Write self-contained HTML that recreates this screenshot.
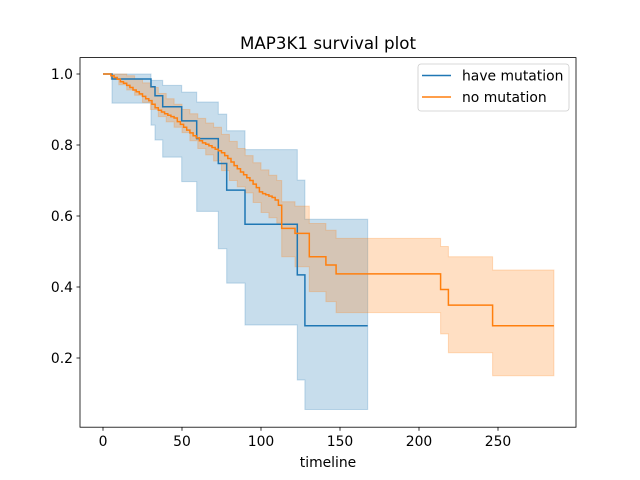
<!DOCTYPE html>
<html><head><meta charset="utf-8"><style>
html,body{margin:0;padding:0;background:#fff;}
svg{display:block;font-family:"DejaVu Sans","Liberation Sans",sans-serif;}
</style></head><body>
<svg id="chart" width="640" height="480" viewBox="0 0 640 480" xmlns="http://www.w3.org/2000/svg">
<rect width="640" height="480" fill="#fff"/>
<text x="328" y="49" font-size="16.7" text-anchor="middle">MAP3K1 survival plot</text>
<g id="bands"></g>
<g id="lines"></g>
<rect x="80" y="57.6" width="496" height="369.6" fill="none" stroke="#000" stroke-width="0.8"/>
<g id="xticks"></g>
<g id="yticks"></g>
<text x="328" y="467" font-size="13.9" text-anchor="middle">timeline</text>
<g>
<rect x="418" y="64" width="151" height="47" rx="3" fill="#fff" fill-opacity="0.8" stroke="#ccc" stroke-width="0.8"/>
<g>
<line x1="422" y1="75.5" x2="451" y2="75.5" stroke="#1f77b4" stroke-width="1.5"/>
<text x="462" y="80.5" font-size="13.9">have mutation</text></g>
<g>
<line x1="422" y1="97" x2="451" y2="97" stroke="#ff7f0e" stroke-width="1.5"/>
<text x="462" y="102" font-size="13.9">no mutation</text></g>
</g>
</svg>
<script>
const xTicks=[0,50,100,150,200,250];
const yTicks=[0.2,0.4,0.6,0.8,1.0];
const yTickLabels=["0.2","0.4","0.6","0.8","1.0"];
const blueTimes=[0,5.7,30.4,32.9,37.8,49.8,59.3,73,78.3,89.9,123,127.8];
const blueSurv=[1,0.986,0.964,0.939,0.908,0.868,0.818,0.748,0.673,0.577,0.434,0.291];
const blueUpper=[1,1,0.982,0.982,0.968,0.949,0.921,0.887,0.840,0.787,0.701,0.591];
const blueLower=[1,0.918,0.856,0.814,0.766,0.697,0.613,0.508,0.411,0.293,0.138,0.055];
const blueEnd=167.5;
const orangeTimes=[0,5,7,9,11,13,15,17,19,21,23,25,27,29,31,33,35,37,39,41,43,45,47,49,51,53,55,57,59,61,63,65,67,69,71,73,75,77,79,81,83,85,87,89,91,93,95,97,99,101,103,105,107,109,111,113.1,121.5,130.6,141.1,147.5,213.7,218.6,246.6];
const orangeSurv=[1,0.995,0.99,0.985,0.978,0.974,0.968,0.962,0.955,0.950,0.944,0.937,0.930,0.925,0.915,0.905,0.898,0.893,0.888,0.884,0.880,0.876,0.866,0.858,0.850,0.842,0.834,0.826,0.820,0.812,0.806,0.802,0.798,0.793,0.788,0.784,0.778,0.770,0.762,0.752,0.742,0.733,0.724,0.716,0.708,0.700,0.690,0.680,0.668,0.663,0.660,0.656,0.652,0.645,0.630,0.565,0.551,0.485,0.462,0.437,0.393,0.349,0.291];
const orangeCITimes=[0,5,10,15,20,25,30,35,40,45,50,55,60,65,70,75,80,85,90,95,100,105,110,113.1,121.5,130.6,141.1,147.5,213.7,218.6,246.6];
const orangeUpper=[1,1,1,0.995,0.985,0.975,0.962,0.945,0.93,0.915,0.90,0.888,0.875,0.862,0.85,0.83,0.81,0.79,0.77,0.75,0.73,0.715,0.70,0.64,0.628,0.579,0.56,0.537,0.514,0.485,0.448];
const orangeLower=[1,0.985,0.97,0.955,0.94,0.92,0.90,0.88,0.865,0.85,0.835,0.812,0.79,0.772,0.755,0.728,0.70,0.682,0.665,0.638,0.61,0.595,0.58,0.485,0.457,0.387,0.359,0.328,0.268,0.215,0.150];
const orangeEnd=285.4;

const NS="http://www.w3.org/2000/svg";
const X=t=>103+t*1.58;
const Y=v=>74+(1-v)*355;
function stepPts(times,vals,end){let p=[];for(let i=0;i<times.length;i++){const x=X(times[i]),y=Y(vals[i]);if(i>0)p.push([x,Y(vals[i-1])]);p.push([x,y]);}p.push([X(end),Y(vals[vals.length-1])]);return p;}
function mk(tag,attrs,parent){const e=document.createElementNS(NS,tag);for(const k in attrs)e.setAttribute(k,attrs[k]);parent.appendChild(e);return e;}
const bands=document.getElementById('bands'),lines=document.getElementById('lines');
function band(times,up,lo,end,color,name){const u=stepPts(times,up,end),l=stepPts(times,lo,end).reverse();const d='M'+u.concat(l).map(p=>p[0].toFixed(1)+','+p[1].toFixed(1)).join('L')+'Z';const e=mk('path',{d:d,fill:color,'fill-opacity':0.25,stroke:color,'stroke-opacity':0.25},bands);

}
function line(times,vals,end,color,name){const d='M'+stepPts(times,vals,end).map(p=>p[0].toFixed(1)+','+p[1].toFixed(1)).join('L');const e=mk('path',{d:d,fill:'none',stroke:color,'stroke-width':1.5},lines);

}
band(blueTimes,blueUpper,blueLower,blueEnd,'#1f77b4','have-mutation-ci');
band(orangeCITimes,orangeUpper,orangeLower,orangeEnd,'#ff7f0e','no-mutation-ci');
line(blueTimes,blueSurv,blueEnd,'#1f77b4','have-mutation-line');
line(orangeTimes,orangeSurv,orangeEnd,'#ff7f0e','no-mutation-line');
const xg=document.getElementById('xticks'),yg=document.getElementById('yticks');
xTicks.forEach(t=>{const x=X(t);mk('line',{x1:x,y1:427.2,x2:x,y2:430.7,stroke:'#000','stroke-width':0.8},xg);const tx=mk('text',{x:x,y:446,'font-size':13.9,'text-anchor':'middle'},xg);tx.textContent=t;

});
yTicks.forEach((v,i)=>{const y=Y(v);mk('line',{x1:76.5,y1:y,x2:80,y2:y,stroke:'#000','stroke-width':0.8},yg);const tx=mk('text',{x:73,y:y+5,'font-size':13.9,'text-anchor':'end'},yg);tx.textContent=yTickLabels[i];

});
</script>
</body></html>
